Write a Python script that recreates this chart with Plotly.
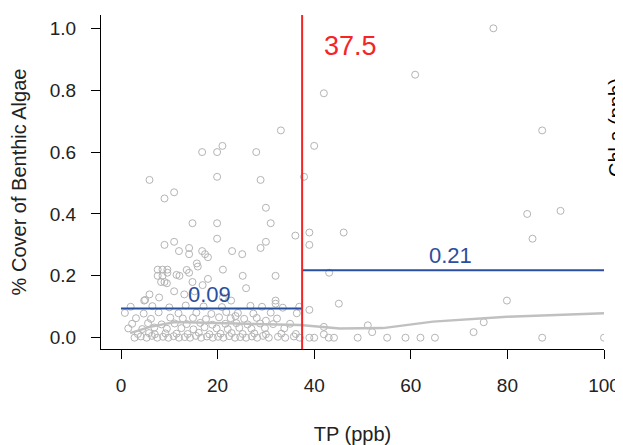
import plotly.graph_objects as go

# scatter points: TP (ppb) and fractional algal cover
tp = [77.1, 60.9, 42.0, 87.2, 40.0, 37.9, 91.0, 84.1, 85.2, 39.0, 46.1, 39.0,
      43.1, 39.0, 45.1, 79.9, 42.0, 51.1, 52.0, 75.1, 73.0, 42.0,
      39.0, 40.0, 43.0, 44.1, 49.0, 55.1, 58.9, 62.0, 65.0, 87.2, 100.0,
      33.1, 21.0, 16.8, 19.9, 28.0, 5.9, 19.9, 28.9, 11.0, 9.0, 30.0, 14.8,
      19.9, 31.0, 36.1, 11.0, 9.0, 19.9, 30.0, 28.9, 14.1, 12.0, 16.8, 23.0,
      25.1, 17.4, 14.1, 18.0, 15.9, 21.1, 14.1, 12.1,
      7.6, 8.6, 9.6, 7.6, 8.6, 9.6, 8.3, 9.0,
      18.0, 14.8, 25.2, 32.0, 25.9, 16.9, 11.0, 5.9, 7.9, 4.8, 13.1, 15.2,
      32.0, 32.0, 22.8, 21.1, 36.9, 23.7, 30.0, 5.0, 9.5, 11.5, 13.6, 15.7,
      2.8, 4.1, 5.3, 6.4, 7.5, 8.7, 9.8, 10.9, 12.0, 13.2, 14.3, 15.5, 16.6,
      17.8, 19.0, 20.1, 21.2, 22.4, 23.6, 24.7, 25.9, 27.1, 28.2, 29.4, 30.6,
      32.5, 34.0, 35.8, 37.0,
      3.5, 5.8, 7.0, 9.2, 11.5, 13.8, 16.1, 18.3, 20.6, 22.9, 25.2, 27.6,
      30.0, 33.2, 36.2,
      1.5, 4.4, 6.9, 9.5, 12.5, 15.0, 17.3, 19.8, 22.1, 24.5, 27.0, 29.8, 33.8,
      2.3, 5.6, 8.4, 11.1, 13.6, 16.4, 18.9, 21.6, 23.9, 26.2, 28.8, 31.5, 35.0,
      3.1, 6.2, 10.2, 12.8, 14.9, 17.6, 20.3, 22.7, 25.5, 28.1, 32.3,
      0.8, 4.7, 7.8, 11.9, 15.6, 18.7, 21.8, 24.2, 27.4, 31.0, 36.4,
      2.0, 6.5, 10.0, 13.4, 17.1, 20.9, 26.8, 29.2, 33.5]
cover = [1.0, 0.85, 0.79, 0.67, 0.62, 0.52, 0.41, 0.40, 0.32, 0.34, 0.34, 0.30,
         0.21, 0.09, 0.11, 0.12, 0.035, 0.04, 0.018, 0.05, 0.018, 0.011,
         0.0, 0.0, 0.0, 0.0, 0.0, 0.0, 0.0, 0.0, 0.0, 0.0, 0.0,
         0.67, 0.62, 0.60, 0.60, 0.60, 0.51, 0.52, 0.51, 0.47, 0.45, 0.42, 0.37,
         0.37, 0.37, 0.33, 0.31, 0.30, 0.32, 0.31, 0.29, 0.29, 0.28, 0.28, 0.28,
         0.27, 0.27, 0.27, 0.26, 0.23, 0.22, 0.21, 0.20,
         0.22, 0.22, 0.22, 0.20, 0.20, 0.21, 0.18, 0.18,
         0.19, 0.18, 0.20, 0.20, 0.16, 0.17, 0.15, 0.14, 0.13, 0.12, 0.14, 0.15,
         0.12, 0.11, 0.12, 0.13, 0.10, 0.07, 0.055, 0.122, 0.176, 0.203, 0.219, 0.24,
         0.0, 0.004, 0.0, 0.006, 0.0, 0.003, 0.0, 0.005, 0.0, 0.002, 0.0, 0.006, 0.0,
         0.004, 0.0, 0.003, 0.0, 0.005, 0.0, 0.002, 0.0, 0.004, 0.0, 0.006, 0.0,
         0.003, 0.0, 0.004, 0.0,
         0.012, 0.015, 0.011, 0.014, 0.013, 0.012, 0.016, 0.011, 0.013, 0.015,
         0.012, 0.014, 0.011, 0.013, 0.012,
         0.03, 0.028, 0.033, 0.029, 0.031, 0.027, 0.034, 0.03, 0.028, 0.032,
         0.029, 0.031, 0.03,
         0.045, 0.047, 0.043, 0.046, 0.044, 0.048, 0.042, 0.045, 0.047, 0.043,
         0.046, 0.044, 0.045,
         0.063, 0.061, 0.065, 0.062, 0.064, 0.06, 0.066, 0.063, 0.061, 0.064, 0.062,
         0.08, 0.078, 0.082, 0.079, 0.081, 0.077, 0.083, 0.08, 0.078, 0.081, 0.079,
         0.1, 0.102, 0.098, 0.104, 0.101, 0.099, 0.103, 0.1, 0.097]

# smoothed trend line
smooth_x = [1.9, 6.0, 11.2, 19.5, 28.8, 37.1, 45.3, 54.2, 64.6, 79.9, 100.0]
smooth_y = [0.015, 0.035, 0.051, 0.048, 0.044, 0.041, 0.030, 0.031, 0.052, 0.068, 0.079]

# change point and group means
threshold = 37.5
mean_below = 0.094
mean_above = 0.218
label_below = "0.09"
label_above = "0.21"

font_family = "Liberation Sans, Arial, sans-serif"
blue = "#2A4FA0"
red = "#F52525"

fig = go.Figure()
fig.add_trace(go.Scatter(x=tp, y=cover, mode="markers",
                         marker=dict(symbol="circle-open", size=7,
                                     color="#B4B4B4", line=dict(width=1)),
                         cliponaxis=True, showlegend=False))
fig.add_trace(go.Scatter(x=smooth_x, y=smooth_y, mode="lines",
                         line=dict(color="#C0C0C0", width=2.5),
                         showlegend=False))
fig.add_trace(go.Scatter(x=[0, threshold], y=[mean_below, mean_below], mode="lines",
                         line=dict(color=blue, width=2), showlegend=False))
fig.add_trace(go.Scatter(x=[threshold, 100], y=[mean_above, mean_above], mode="lines",
                         line=dict(color=blue, width=2), showlegend=False))
fig.add_shape(type="line", x0=threshold, x1=threshold, xref="x", y0=0, y1=1,
              yref="paper", line=dict(color=red, width=2))

fig.add_annotation(x=47.6, y=0.943, text=str(threshold), showarrow=False,
                   font=dict(color=red, size=27, family=font_family))
fig.add_annotation(x=18.4, y=0.139, text=label_below, showarrow=False,
                   font=dict(color=blue, size=22, family=font_family))
fig.add_annotation(x=68.3, y=0.267, text=label_above, showarrow=False,
                   font=dict(color=blue, size=22, family=font_family))
# y label of the neighbouring panel, cut by the right edge
fig.add_annotation(x=1.05, y=0.662, xref="paper", yref="paper",
                   text="Chl a (ppb)", textangle=-90, showarrow=False,
                   font=dict(color="black", size=20, family=font_family))

# page body adds an 8px margin, so the figure is 8px smaller than the window
fig.update_layout(
    width=615, height=437,
    margin=dict(l=93, r=19, t=7, b=96),
    paper_bgcolor="white", plot_bgcolor="white",
    font=dict(family=font_family, size=19, color="#222222"),
    xaxis=dict(range=[-4.14, 100], tickvals=[0, 20, 40, 60, 80, 100],
               showline=True, linecolor="black", linewidth=1, mirror=False,
               ticks="outside", ticklen=9, tickcolor="black",
               ticklabelstandoff=10, showgrid=False, zeroline=False,
               automargin=False,
               title=dict(text="TP (ppb)", standoff=33, font=dict(size=20))),
    yaxis=dict(range=[-0.0365, 1.043], tickvals=[0, 0.2, 0.4, 0.6, 0.8, 1.0],
               tickformat=".1f",
               showline=True, linecolor="black", linewidth=1,
               ticks="outside", ticklen=9, tickcolor="black",
               ticklabelstandoff=11, showgrid=False, zeroline=False,
               automargin=False,
               title=dict(text="% Cover of Benthic Algae", standoff=20,
                          font=dict(size=20))),
)

fig.write_html("out.html")
